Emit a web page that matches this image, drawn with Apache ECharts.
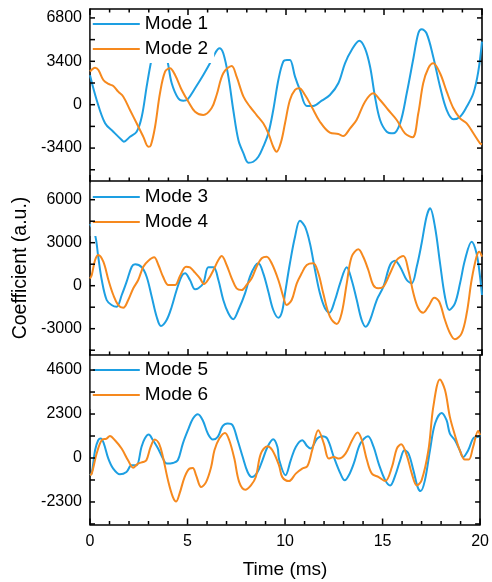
<!DOCTYPE html>
<html>
<head>
    <meta charset="utf-8">
    <title>Mode coefficients</title>
    <script src="https://cdn.jsdelivr.net/npm/echarts@6.0.0/dist/echarts.min.js"></script>
    <style>
        body { margin: 0; background: #fff; }
    </style>
</head>
<body>
<div id="main" style="width: 492px;height:582px;"></div>
<script type="text/javascript">
    // data: [time (ms), coefficient]
    var mode1 = [[0,2300],[0.34,369],[0.77,-1459],[1.19,-2118],[1.62,-2769],[1.73,-2900],[2.04,-2510],[2.38,-2118],[2.64,-941],[2.89,1412],[3.1,3247],[3.5,6200],[3.96,3373],[4.17,1678],[4.5,502],[4.76,314],[4.97,400],[5.36,1286],[5.78,2329],[6.12,3247],[6.43,4157],[6.6,4420],[6.8,4031],[7.06,2196],[7.31,-416],[7.57,-2769],[7.83,-3812],[8.08,-4549],[8.33,-4470],[8.59,-4078],[8.84,-3294],[9.1,-2243],[9.35,-416],[9.61,1937],[9.86,3373],[10.05,3506],[10.2,3506],[10.46,2196],[10.71,1153],[11.06,-102],[11.39,-102],[11.82,314],[12.24,761],[12.67,1678],[13.01,3247],[13.35,4290],[13.74,5020],[14.03,4420],[14.29,2980],[14.54,627],[14.8,-1200],[15.14,-2118],[15.47,-2243],[15.82,-1459],[16.16,894],[16.5,3639],[16.75,5600],[16.92,5914],[17.17,5600],[17.51,3765],[17.86,1412],[18.2,-416],[18.54,-1145],[18.88,-941],[19.22,-157],[19.56,894],[19.81,2588],[20,4941]];
    var mode2 = [[0,2600],[0.26,2902],[0.43,2722],[0.68,1937],[0.94,1624],[1.19,1467],[1.44,1020],[1.7,627],[2.04,-416],[2.38,-1459],[2.72,-2510],[2.98,-3294],[3.1,-3200],[3.32,-1725],[3.57,894],[3.83,2588],[4.08,2855],[4.34,2329],[4.68,1153],[5.02,235],[5.36,-549],[5.78,-808],[6.2,-282],[6.46,761],[6.8,2463],[7.23,3035],[7.48,2196],[7.83,627],[8.16,-157],[8.5,-808],[8.84,-1459],[9.1,-2243],[9.35,-3294],[9.52,-3686],[9.75,-2900],[9.95,-1459],[10.2,369],[10.46,1153],[10.68,1286],[10.97,761],[11.31,-157],[11.73,-1333],[12.24,-2196],[12.67,-2298],[12.92,-2455],[13.27,-1851],[13.6,-1200],[14.03,235],[14.45,894],[14.8,369],[15.22,-416],[15.65,-1200],[16.07,-2243],[16.46,-2557],[16.75,-675],[17.0,1678],[17.26,2855],[17.51,3247],[17.86,2463],[18.2,1020],[18.54,-282],[18.88,-1067],[19.22,-1459],[19.56,-2243],[19.9,-3027],[20,-3100]];
    var mode3 = [[0,4300],[0.26,3537],[0.42,2023],[0.6,398],[0.85,-998],[1.1,-1347],[1.36,-1465],[1.62,-649],[1.87,279],[2.13,1326],[2.3,1493],[2.64,1284],[2.89,628],[3.15,-767],[3.4,-2163],[3.62,-2812],[3.91,-2393],[4.17,-1465],[4.42,-300],[4.68,677],[4.85,865],[5.1,398],[5.36,-251],[5.53,-181],[5.78,167],[6.04,1284],[6.3,1284],[6.55,398],[6.8,-998],[7.06,-1926],[7.31,-2344],[7.57,-1695],[7.91,-530],[8.16,628],[8.42,1374],[8.59,1563],[8.84,865],[9.1,-419],[9.35,-1695],[9.61,-2233],[9.8,-1800],[9.95,-530],[10.2,1563],[10.46,3419],[10.71,4535],[10.97,4116],[11.22,2958],[11.48,1095],[11.73,-530],[11.99,-1577],[12.21,-1884],[12.5,-998],[12.76,167],[13.1,1284],[13.35,398],[13.61,-998],[13.86,-2393],[14.07,-2860],[14.29,-2393],[14.63,-998],[14.97,-70],[15.31,1444],[15.56,1744],[15.82,1326],[16.16,398],[16.41,167],[16.67,1326],[16.92,2958],[17.17,4814],[17.35,5400],[17.6,4116],[17.86,1563],[18.11,-767],[18.33,-1695],[18.62,-1228],[18.88,167],[19.13,1793],[19.47,3070],[19.72,2260],[19.9,628],[20,-649]];
    var mode4 = [[0,500],[0.09,747],[0.26,1793],[0.42,2142],[0.68,1674],[0.94,398],[1.19,-649],[1.44,-1347],[1.7,-1535],[1.95,-998],[2.21,-181],[2.46,398],[2.72,1326],[2.98,1744],[3.27,1981],[3.49,1444],[3.74,586],[4.0,49],[4.34,49],[4.59,677],[4.9,1326],[5.1,1284],[5.36,907],[5.61,516],[5.82,119],[6.04,446],[6.3,1095],[6.55,1793],[6.72,2072],[6.97,1444],[7.23,516],[7.48,-181],[7.74,-300],[7.99,49],[8.25,516],[8.5,1326],[8.76,1912],[9.01,2023],[9.27,1563],[9.61,398],[9.86,-767],[10.03,-1347],[10.29,-998],[10.55,167],[10.8,865],[11.06,1444],[11.39,1563],[11.65,865],[11.9,-530],[12.24,-2163],[12.59,-2672],[12.84,-1926],[13.1,167],[13.35,2023],[13.69,2540],[13.94,2023],[14.2,1095],[14.45,49],[14.71,-181],[14.97,-70],[15.31,865],[15.65,1793],[15.99,2072],[16.24,1095],[16.5,-530],[16.75,-1577],[17.0,-1884],[17.26,-1465],[17.57,-837],[17.82,-1116],[18.11,-2393],[18.37,-3321],[18.62,-3740],[18.96,-3321],[19.22,-1926],[19.47,398],[19.72,2023],[19.86,2372],[20,2023]];
    var mode5 = [[0,-900],[0.09,-787],[0.26,404],[0.42,928],[0.55,1018],[0.71,755],[0.94,-31],[1.19,-556],[1.53,-855],[1.87,-734],[2.13,-383],[2.38,-383],[2.64,577],[2.81,1018],[3.01,1227],[3.23,928],[3.49,493],[3.74,-31],[3.94,-294],[4.25,-262],[4.5,-121],[4.76,755],[5.02,1453],[5.28,2067],[5.53,2292],[5.78,1977],[6.04,1280],[6.3,965],[6.55,1101],[6.8,1663],[7.06,1804],[7.31,1715],[7.57,928],[7.83,52],[8.08,-734],[8.3,-997],[8.59,-734],[8.84,-121],[9.1,577],[9.39,981],[9.61,577],[9.7,-100],[10.02,-907],[10.29,-121],[10.55,577],[10.88,928],[11.14,614],[11.31,493],[11.65,1018],[11.9,1138],[12.16,1018],[12.5,52],[12.84,-818],[13.06,-1170],[13.27,-907],[13.52,-294],[13.86,755],[14.25,1138],[14.54,577],[14.8,-294],[15.14,-1170],[15.39,-1432],[15.65,-907],[15.9,-121],[16.12,404],[16.33,231],[16.58,-645],[16.8,-1521],[16.95,-1731],[17.17,-1170],[17.43,404],[17.69,1804],[18.03,2360],[18.28,1977],[18.45,1280],[18.71,928],[18.96,404],[19.13,52],[19.39,404],[19.69,1070],[19.9,1101],[20,1200]];
    var mode6 = [[0,-900],[0.09,-818],[0.34,231],[0.6,928],[0.85,1018],[1.02,1154],[1.28,928],[1.62,493],[1.95,-121],[2.21,-504],[2.46,-294],[2.72,-210],[2.89,-121],[3.11,577],[3.32,965],[3.54,755],[3.74,52],[4.0,-1170],[4.25,-2046],[4.42,-2271],[4.59,-1867],[4.85,-997],[5.1,-556],[5.27,-525],[5.44,-907],[5.7,-1521],[5.95,-1259],[6.21,-472],[6.38,404],[6.63,1018],[6.92,1311],[7.14,928],[7.4,-31],[7.65,-1259],[7.96,-1658],[8.25,-1432],[8.5,-997],[8.76,231],[9.1,614],[9.35,404],[9.69,-383],[9.86,-1000],[10.2,-1206],[10.55,-818],[10.88,-556],[11.14,-435],[11.39,404],[11.7,1453],[11.99,755],[12.24,-31],[12.5,52],[12.76,-31],[13.1,231],[13.44,928],[13.72,1332],[13.94,928],[14.2,-121],[14.45,-818],[14.8,-997],[15.14,-1206],[15.48,-472],[15.73,493],[15.95,719],[16.24,142],[16.5,-818],[16.75,-1432],[17.0,-1170],[17.35,404],[17.6,2675],[17.94,4112],[18.2,3551],[18.45,2150],[18.71,1191],[18.96,404],[19.22,-84],[19.42,-84],[19.64,577],[19.9,1416],[20,1200]];

    // tick values / tick labels of the three stacked panels
    var yTicks1 = [-5100, -3400, -1700, 0, 1700, 3400, 5100, 6800];
    var yLabels1 = [-3400, 0, 3400, 6800];
    var yTicks2 = [-4500, -3000, -1500, 0, 1500, 3000, 4500, 6000];
    var yLabels2 = [-3000, 0, 3000, 6000];
    var yTicks3 = [-3450, -2300, -1150, 0, 1150, 2300, 3450, 4600];
    var yLabels3 = [-2300, 0, 2300, 4600];
    var xTicks = [0, 1, 2, 3, 4, 5, 6, 7, 8, 9, 10, 11, 12, 13, 14, 15, 16, 17, 18, 19, 20];
    var legendNames = [['Mode 1', 'Mode 2'], ['Mode 3', 'Mode 4'], ['Mode 5', 'Mode 6']];

    var BLUE = '#1d9fe2';
    var ORANGE = '#f6891e';
    var FONT = 'Liberation Sans, Arial, sans-serif';

    var myChart = echarts.init(document.getElementById('main'));

    var grids = [
        {left: 90, right: 10, top: 9, height: 172},
        {left: 90, right: 10, top: 181, height: 174},
        {left: 90, right: 10, top: 355, height: 169.5}
    ];

    function xAxisFor(idx, pos, showLabel) {
        return {
            type: 'value', gridIndex: idx, position: pos,
            min: 0, max: 20, interval: 5,
            axisLine: {show: true, onZero: false, lineStyle: {color: '#000', width: 1.6}},
            splitLine: {show: false},
            axisTick: {show: false},
            minorTick: {show: false},
            axisLabel: {show: showLabel, fontSize: 16, color: '#000', margin: 9, fontFamily: FONT},
            name: showLabel ? 'Time (ms)' : '',
            nameLocation: 'middle',
            nameGap: 36,
            nameTextStyle: {fontSize: 19, color: '#000', fontFamily: FONT}
        };
    }

    function yAxisFor(idx, pos, min, max, labels, name) {
        var ax = {
            type: 'value', gridIndex: idx, position: pos,
            min: min, max: max,
            axisLine: {show: true, onZero: false, lineStyle: {color: '#000', width: 1.6}},
            splitLine: {show: false},
            axisTick: {show: false},
            axisLabel: {
                show: pos === 'left', fontSize: 16, color: '#000', margin: 8, fontFamily: FONT,
                formatter: function (v) { return String(v); }
            },
            nameLocation: 'middle',
            nameGap: 47,
            nameTextStyle: {fontSize: 19.5, color: '#000', fontFamily: FONT}
        };
        if (labels) ax.axisLabel.customValues = labels;
        if (name) ax.name = name;
        return ax;
    }

    var ranges = [[-5980, 7500], [-4835, 7305], [-3478, 5387]];
    var ticks = [yTicks1, yTicks2, yTicks3];
    var labels = [yLabels1, yLabels2, yLabels3];

    var xAxes = [xAxisFor(0, 'bottom', false), xAxisFor(1, 'bottom', false), xAxisFor(2, 'bottom', true), xAxisFor(0, 'top', false)];
    var yAxes = [];
    for (var i = 0; i < 3; i++) {
        yAxes.push(yAxisFor(i, 'left', ranges[i][0], ranges[i][1], labels[i], i === 1 ? 'Coefficient (a.u.)' : ''));
    }
    for (var j = 0; j < 3; j++) {
        yAxes.push(yAxisFor(j, 'right', ranges[j][0], ranges[j][1], null, ''));
    }

    var allData = [mode1, mode2, mode3, mode4, mode5, mode6];
    var series = [];
    for (var k = 0; k < 6; k++) {
        var p = Math.floor(k / 2);
        series.push({
            name: legendNames[p][k % 2],
            type: 'line',
            xAxisIndex: p,
            yAxisIndex: p,
            data: allData[k],
            smooth: 0.35,
            showSymbol: false,
            symbol: 'none',
            color: k % 2 === 0 ? BLUE : ORANGE,
            lineStyle: {width: 2, color: k % 2 === 0 ? BLUE : ORANGE}
        });
    }

    // inward ticks drawn as a custom series, placed with api.coord
    function seg(x1, y1, x2, y2) {
        return {type: 'line', shape: {x1: x1, y1: y1, x2: x2, y2: y2}, style: {stroke: '#000', lineWidth: 1.5}};
    }
    function tickSeries(g) {
        var lo = ranges[g][0], hi = ranges[g][1];
        var data = [];
        xTicks.forEach(function (t) { data.push([0, t]); });
        ticks[g].forEach(function (v) { data.push([1, v]); });
        return {
            type: 'custom',
            xAxisIndex: g,
            yAxisIndex: g,
            z: 20,
            silent: true,
            clip: false,
            data: data,
            renderItem: function (params, api) {
                var kind = api.value(0), v = api.value(1);
                var kids = [];
                if (kind === 0) {
                    var len = v % 5 === 0 ? 6 : 3.5;
                    var b = api.coord([v, lo]);
                    kids.push(seg(b[0], b[1], b[0], b[1] - len));
                    if (g === 0) {
                        var t = api.coord([v, hi]);
                        kids.push(seg(t[0], t[1], t[0], t[1] + len));
                    }
                } else {
                    var l = api.coord([0, v]);
                    var r = api.coord([20, v]);
                    kids.push(seg(l[0], l[1], l[0] + 5, l[1]));
                    kids.push(seg(r[0], r[1], r[0] - 5, r[1]));
                }
                return {type: 'group', children: kids};
            }
        };
    }
    series.push(tickSeries(0), tickSeries(1), tickSeries(2));

    var legendTops = [10, 183, 356];
    var legends = legendTops.map(function (t, n) {
        return {
            data: legendNames[n],
            orient: 'vertical',
            left: 90.8, top: t,
            padding: [3, 6, 3, 2],
            itemGap: 3,
            itemWidth: 47, itemHeight: 2,
            icon: 'rect',
            backgroundColor: '#fff',
            z: 10,
            selectedMode: false,
            textStyle: {fontSize: 19, lineHeight: 22, color: '#000', fontFamily: FONT}
        };
    });

    var option = {
        animation: false,
        textStyle: {fontFamily: FONT},
        grid: grids,
        legend: legends,
        xAxis: xAxes,
        yAxis: yAxes,
        series: series
    };
    myChart.setOption(option);
</script>
</body>
</html>
